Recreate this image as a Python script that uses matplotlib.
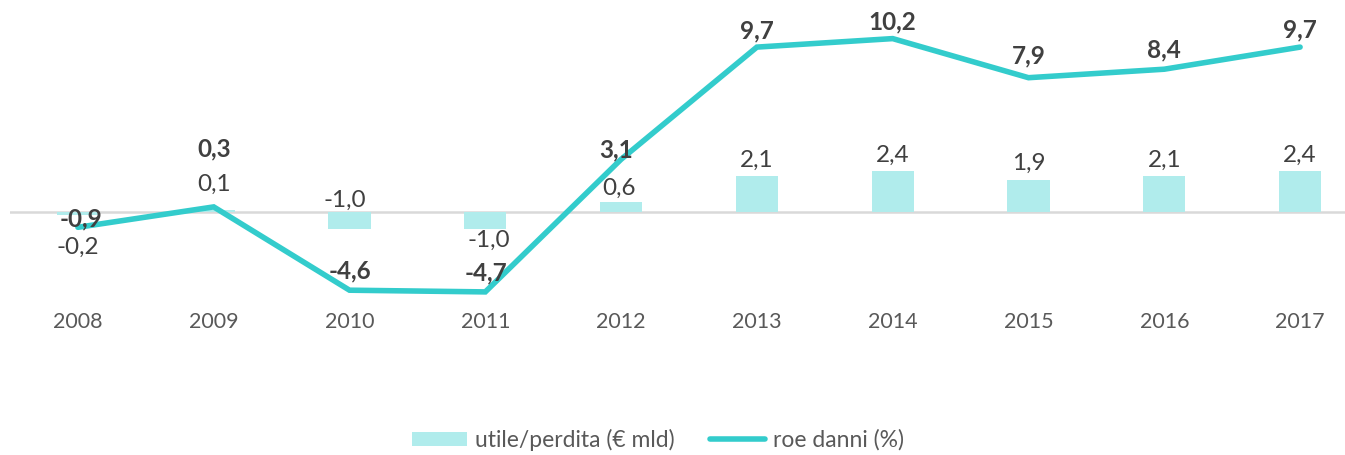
import numpy as np
import matplotlib
matplotlib.use("Agg")
from matplotlib import pyplot as plt

plt.rcParams['font.family'] = ['Lato', 'DejaVu Sans']

years = ['2008', '2009', '2010', '2011', '2012', '2013', '2014', '2015', '2016', '2017']
utile = [-0.2, 0.1, -1.0, -1.0, 0.6, 2.1, 2.4, 1.9, 2.1, 2.4]
roe = [-0.9, 0.3, -4.6, -4.7, 3.1, 9.7, 10.2, 7.9, 8.4, 9.7]

# label offsets in pixels (dx, dy) relative to the value
roe_off = [(3, 8), (0, 58), (0, 19), (1, 19), (-5, 9), (0, 16), (0, 17), (0, 22), (0, 19), (0, 17)]
utile_off = [(0, -32), (0, 26), (-5, 29), (4, -11), (-2, 13), (0, 16), (0, 16), (0, 16), (0, 16), (0, 16)]

bar_col = '#B0ECEC'
line_col = '#33CCCC'
txt_col = '#404040'

W, H = 1345, 455
fig = plt.figure(figsize=(W / 100, H / 100), dpi=100)
# zero at y=212 px, 17 px per unit
ymin, ymax = -5.5, 11.5
top_px = 212 - ymax * 17
bot_px = 212 - ymin * 17
ax = fig.add_axes([10 / W, 1 - bot_px / H, 1358 / W, (bot_px - top_px) / H])

x = np.arange(len(years))
ax.axhline(0, color='#D9D9D9', lw=1.8, zorder=1)
bars = ax.bar(x, utile, width=0.31, color=bar_col, zorder=2, label='utile/perdita (€ mld)')
line, = ax.plot(x, roe, color=line_col, lw=4, zorder=3, solid_capstyle='round',
                solid_joinstyle='miter', label='roe danni (%)')

for i in range(len(years)):
    ax.annotate(f"{utile[i]:.1f}".replace('.', ','), (x[i], utile[i]),
                xytext=utile_off[i], textcoords='offset pixels',
                ha='center', va='center', fontsize=17.5, color=txt_col, zorder=4)
    ax.annotate(f"{roe[i]:.1f}".replace('.', ','), (x[i], roe[i]),
                xytext=roe_off[i], textcoords='offset pixels',
                ha='center', va='center', fontsize=17.5, fontweight='bold',
                color=txt_col, zorder=5)

ax.set_xlim(-0.5, len(years) - 0.5)
ax.set_ylim(ymin, ymax)
ax.set_xticks(x)
ax.set_xticklabels(years, fontsize=15.5, color='#595959')
ax.tick_params(axis='x', length=0, pad=5)
ax.set_yticks([])
for s in ax.spines.values():
    s.set_visible(False)

fig.legend([bars, line], ['utile/perdita (€ mld)', 'roe danni (%)'],
           loc='center', bbox_to_anchor=(658 / W, 1 - 440 / H), ncol=2, frameon=False,
           fontsize=16.5, labelcolor='#595959', handlelength=2.4, handleheight=0.6,
           columnspacing=1.5, handletextpad=0.35)

fig.savefig('out.png', dpi=100)
